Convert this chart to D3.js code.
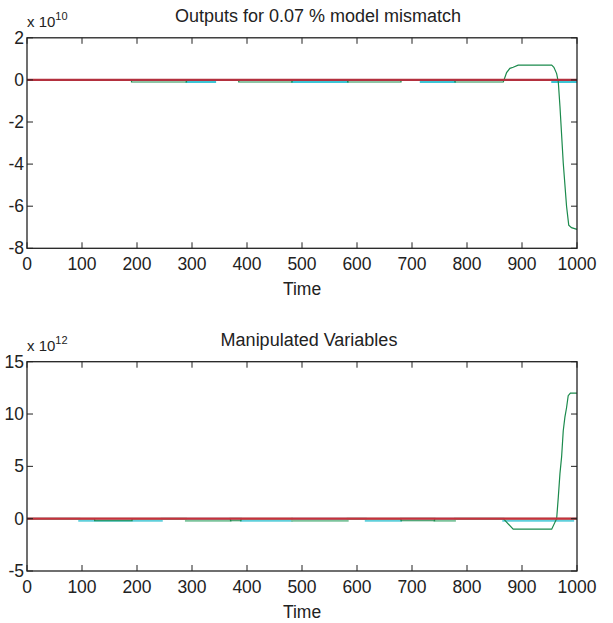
<!DOCTYPE html>
<html>
<head>
<meta charset="utf-8">
<script src="https://cdn.jsdelivr.net/npm/d3@7"></script>
<style>
  body { margin: 0; background: #fff; }
  svg text { font-family: "Liberation Sans", Arial, sans-serif; fill: #222; }
</style>
</head>
<body>
<div id="container"></div>
<script>
/**
 * DATA
 * */
const xTicks = [0, 100, 200, 300, 400, 500, 600, 700, 800, 900, 1000];
const yTicksTop = [2, 0, -2, -4, -6, -8];
const yTicksBottom = [15, 10, 5, 0, -5];

// top plot (x 10^10)
const tOut1 = [0, 190, 190, 290, 290, 385, 385, 482, 482, 583, 583, 680, 680, 778, 778, 866, 872, 878, 884, 893, 954, 958, 963, 966, 969, 975, 981, 985, 990, 1000];
const vOut1 = [0, 0, -0.1, -0.1, 0, 0, -0.1, -0.1, 0, 0, -0.1, -0.1, 0, 0, -0.1, -0.1, 0.35, 0.55, 0.6, 0.7, 0.7, 0.6, 0.3, -0.1, -1.25, -3.95, -6.0, -6.9, -7.02, -7.1];
const tOut2 = [0, 290, 290, 342, 342, 482, 482, 583, 583, 716, 716, 778, 778, 955, 955, 1000];
const vOut2 = [0, 0, -0.1, -0.1, 0, 0, -0.1, -0.1, 0, 0, -0.1, -0.1, 0, 0, -0.1, -0.1];
const tOut3 = [0, 1000];
const vOut3 = [0, 0];

// bottom plot (x 10^12)
const tMv1 = [0, 123, 123, 191, 191, 370, 370, 389, 389, 680, 680, 741, 741, 866, 884, 954, 963, 966, 969, 972, 975, 978, 981, 984, 988, 1000];
const vMv1 = [0, 0, -0.2, -0.2, 0, 0, -0.2, -0.2, 0, 0, -0.2, -0.2, 0, 0, -1.0, -1.0, 0, 2.06, 4.3, 5.9, 8.4, 9.7, 10.6, 11.75, 12.0, 12.0];
const tMv2 = [0, 95, 95, 245, 245, 389, 389, 482, 482, 616, 616, 680, 680, 866, 866, 993, 993, 1000];
const vMv2 = [0, 0, -0.2, -0.2, 0, 0, -0.2, -0.2, 0, 0, -0.2, -0.2, 0, 0, -0.2, -0.2, 0, 0];
const tMv3 = [0, 289, 289, 370, 370, 482, 482, 583, 583, 741, 741, 778, 778, 1000];
const vMv3 = [0, 0, -0.2, -0.2, 0, 0, -0.2, -0.2, 0, 0, -0.2, -0.2, 0, 0];
const tMv4 = [0, 1000];
const vMv4 = [0, 0];

/**
 * CONSTANTS
 * */
const width = 613, height = 623;
const left = 27, right = 577;

const svg = d3.select("#container")
  .append("svg")
  .attr("width", width)
  .attr("height", height);

const x = d3.scaleLinear().domain([0, 1000]).range([left, right]);

function drawPanel(cfg) {
  const y = d3.scaleLinear().domain(cfg.yDomain).range([cfg.bottom, cfg.top]);
  const g = svg.append("g");

  const line = d3.line().x(d => x(d[0])).y(d => y(d[1]));

  cfg.series.forEach(s => {
    g.append("path")
      .datum(d3.zip(s.t, s.v))
      .attr("fill", "none")
      .attr("stroke", s.color)
      .attr("stroke-width", s.w)
      .attr("d", line);
  });

  // frame
  g.append("rect")
    .attr("x", left).attr("y", cfg.top)
    .attr("width", right - left).attr("height", cfg.bottom - cfg.top)
    .attr("fill", "none").attr("stroke", "#222").attr("stroke-width", 1.3);

  // inward ticks
  const tl = 6;
  xTicks.forEach(t => {
    g.append("line").attr("x1", x(t)).attr("x2", x(t))
      .attr("y1", cfg.bottom).attr("y2", cfg.bottom - tl)
      .attr("stroke", "#222");
    g.append("line").attr("x1", x(t)).attr("x2", x(t))
      .attr("y1", cfg.top).attr("y2", cfg.top + tl)
      .attr("stroke", "#222");
    g.append("text").attr("x", x(t)).attr("y", cfg.bottom + 22)
      .attr("text-anchor", "middle").attr("font-size", 17.5).text(t);
  });
  cfg.yTicks.forEach(t => {
    g.append("line").attr("x1", left).attr("x2", left + tl)
      .attr("y1", y(t)).attr("y2", y(t)).attr("stroke", "#222");
    g.append("line").attr("x1", right).attr("x2", right - tl)
      .attr("y1", y(t)).attr("y2", y(t)).attr("stroke", "#222");
    g.append("text").attr("x", 24).attr("y", y(t) + 6)
      .attr("text-anchor", "end").attr("font-size", 17.5).text(t);
  });

  // exponent
  const ex = g.append("text").attr("x", left).attr("y", cfg.top - 11).attr("font-size", 15);
  ex.append("tspan").text("x 10");
  ex.append("tspan").attr("dy", -7).attr("font-size", 11).text(cfg.exp);

  g.append("text").attr("x", cfg.titleX).attr("y", cfg.top - 16)
    .attr("text-anchor", "middle").attr("font-size", 18).text(cfg.title);

  g.append("text").attr("x", (left + right) / 2).attr("y", cfg.bottom + 47)
    .attr("text-anchor", "middle").attr("font-size", 17.5).text("Time");
}

drawPanel({
  top: 37.8, bottom: 248.3, yDomain: [-8, 2], yTicks: yTicksTop, exp: "10",
  title: "Outputs for 0.07 % model mismatch", titleX: 318,
  series: [
    { t: tOut2, v: vOut2, color: "#3cc6d6", w: 2 },
    { t: tOut1, v: vOut1, color: "#1b8a4c", w: 1.2 },
    { t: tOut3, v: vOut3, color: "#b3303e", w: 2.2 }
  ]
});

drawPanel({
  top: 361.7, bottom: 571, yDomain: [-5, 15], yTicks: yTicksBottom, exp: "12",
  title: "Manipulated Variables", titleX: 309,
  series: [
    { t: tMv2, v: vMv2, color: "#5fd0dc", w: 2 },
    { t: tMv3, v: vMv3, color: "#7cc49c", w: 2 },
    { t: tMv1, v: vMv1, color: "#1b8a4c", w: 1.2 },
    { t: tMv4, v: vMv4, color: "#c8303c", w: 2.2 }
  ]
});
</script>
</body>
</html>
